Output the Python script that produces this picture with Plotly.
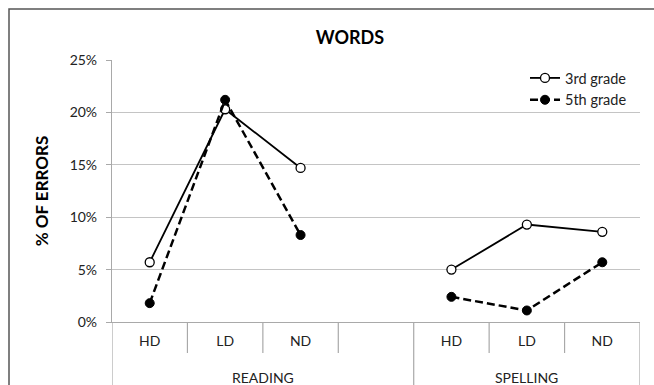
import plotly.graph_objects as go

categories = ["HD", "LD", "ND", "", "HD", "LD", "ND"]
groups = ["READING", "SPELLING"]
group_centers = [1.5, 5.0]
third_grade = [0.057, 0.203, 0.147, None, 0.050, 0.093, 0.086]
fifth_grade = [0.018, 0.212, 0.083, None, 0.024, 0.011, 0.057]
y_ticks = [0, 0.05, 0.10, 0.15, 0.20, 0.25]

xpos = list(range(len(categories)))
FONT = "Lato"
W, H = 654, 385
L, R, T, B = 112, 14, 60, 63
pw, ph = W - L - R, H - T - B

def px_x(p):
    return (p - L) / pw

def px_y(p):
    return (H - B - p) / ph

fig = go.Figure()
fig.add_trace(go.Scatter(
    x=xpos, y=third_grade, name="3rd grade", mode="lines+markers",
    line=dict(color="black", width=1.8),
    marker=dict(symbol="circle", size=9, color="white", line=dict(color="black", width=1.3)),
    connectgaps=False, legendgroup="a"))
fig.add_trace(go.Scatter(
    x=xpos, y=fifth_grade, name="5th grade", mode="lines+markers",
    line=dict(color="black", width=2.5, dash="8px,4px"),
    marker=dict(symbol="circle", size=9, color="black", line=dict(color="black", width=1)),
    connectgaps=False, legendgroup="b"))

shapes = []
sep_color = "#a9a9a9"
n = len(categories)
for i in range(n + 1):
    xb = i - 0.5
    long_line = i in (0, 4, n)
    y1 = px_y(H + 5) if long_line else px_y(353)
    shapes.append(dict(type="line", xref="x", yref="paper", x0=xb, x1=xb, y0=0, y1=y1,
                       line=dict(color=sep_color, width=1.2)))
# outer border
shapes.append(dict(type="rect", xref="paper", yref="paper",
                   x0=px_x(9), x1=px_x(W + 10), y0=px_y(H + 10), y1=px_y(9),
                   line=dict(color="#555555", width=1.5)))

annotations = []
for g, c in zip(groups, group_centers):
    annotations.append(dict(x=c, y=px_y(377), xref="x", yref="paper", text=g, showarrow=False,
                            font=dict(family=FONT, size=14, color="#222"), yanchor="middle"))

fig.update_layout(
    width=W, height=H,
    margin=dict(l=L, r=R, t=T, b=B),
    paper_bgcolor="white", plot_bgcolor="white",
    title=dict(text="<b>WORDS</b>", xref="container", x=350 / W, xanchor="center",
               y=1 - 38 / H, yanchor="middle",
               font=dict(family=FONT, size=18, color="black")),
    font=dict(family=FONT, color="#222"),
    xaxis=dict(range=[-0.5, n - 0.5], tickvals=xpos, ticktext=categories, ticks="",
               showgrid=False, zeroline=False, showline=True, linecolor=sep_color, linewidth=1.2,
               tickfont=dict(family=FONT, size=14, color="#222"), ticklabelstandoff=6,
               fixedrange=True),
    yaxis=dict(range=[0, 0.25], tickvals=y_ticks, tickformat=".0%", ticks="outside", ticklen=5,
               tickcolor=sep_color, showgrid=True, gridcolor="#c4c4c4", gridwidth=1.2,
               zeroline=False, showline=True, linecolor=sep_color, linewidth=1.2,
               tickfont=dict(family=FONT, size=14, color="#222"), ticklabelstandoff=6,
               title=dict(text="<b>% OF ERRORS</b>", font=dict(family=FONT, size=17, color="black"),
                          standoff=16)),
    legend=dict(x=px_x(525), y=px_y(62), xanchor="left", yanchor="top",
                bgcolor="rgba(0,0,0,0)", font=dict(family=FONT, size=14.5, color="#222"),
                itemwidth=30, tracegroupgap=0, traceorder="grouped"),
    shapes=shapes, annotations=annotations,
)

fig.write_html("out.html", config={"displayModeBar": False},
               post_script="document.body.style.margin='0';document.body.style.overflow='hidden';")
